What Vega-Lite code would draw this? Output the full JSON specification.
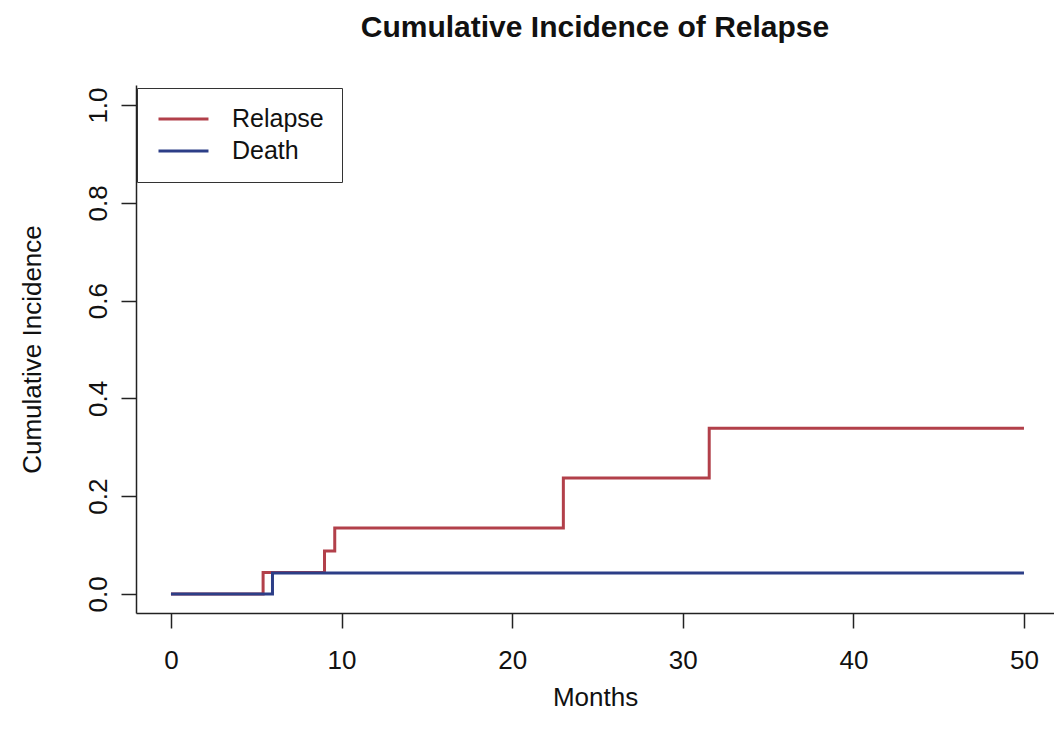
{
  "$schema": "https://vega.github.io/schema/vega-lite/v6.json",
  "autosize": {"type": "none"},
  "width": 918,
  "height": 528,
  "padding": {"left": 136, "top": 85, "right": 0, "bottom": 124},
  "background": "white",
  "config": {
    "view": {"stroke": null},
    "font": "Liberation Sans"
  },
  "title": {
    "text": "Cumulative Incidence of Relapse",
    "fontSize": 30,
    "fontWeight": "bold",
    "font": "Liberation Sans",
    "color": "#111111",
    "anchor": "middle",
    "frame": "group",
    "offset": 42
  },
  "data": {
    "values": [
      {"month": 0, "ci": 0, "event": "Relapse"},
      {"month": 5.4, "ci": 0.044, "event": "Relapse"},
      {"month": 9.0, "ci": 0.088, "event": "Relapse"},
      {"month": 9.6, "ci": 0.135, "event": "Relapse"},
      {"month": 23.0, "ci": 0.237, "event": "Relapse"},
      {"month": 31.55, "ci": 0.339, "event": "Relapse"},
      {"month": 50, "ci": 0.339, "event": "Relapse"},
      {"month": 0, "ci": 0, "event": "Death"},
      {"month": 5.95, "ci": 0.043, "event": "Death"},
      {"month": 50, "ci": 0.043, "event": "Death"}
    ]
  },
  "mark": {"type": "line", "interpolate": "step-after", "strokeWidth": 3},
  "encoding": {
    "x": {
      "field": "month",
      "type": "quantitative",
      "scale": {"domain": [-2.05, 51.76], "nice": false, "zero": false},
      "axis": {
        "title": "Months",
        "values": [0, 10, 20, 30, 40, 50],
        "grid": false,
        "domainColor": "#222222",
        "domainWidth": 1.5,
        "tickColor": "#222222",
        "tickWidth": 1.5,
        "tickSize": 15,
        "labelFontSize": 26,
        "labelColor": "#111111",
        "labelBaseline": "middle",
        "labelPadding": 32,
        "labelFlush": false,
        "titleFontSize": 26,
        "titleFontWeight": "normal",
        "titleColor": "#111111",
        "titleBaseline": "middle",
        "titleY": 84
      }
    },
    "y": {
      "field": "ci",
      "type": "quantitative",
      "scale": {"domain": [-0.039, 1.041], "nice": false, "zero": false},
      "axis": {
        "title": "Cumulative Incidence",
        "values": [0, 0.2, 0.4, 0.6, 0.8, 1.0],
        "format": ".1f",
        "grid": false,
        "domainColor": "#222222",
        "domainWidth": 1.5,
        "tickColor": "#222222",
        "tickWidth": 1.5,
        "tickSize": 15,
        "labelFontSize": 26,
        "labelColor": "#111111",
        "labelAngle": -90,
        "labelAlign": "center",
        "labelBaseline": "middle",
        "labelPadding": 23,
        "labelFlush": false,
        "titleFontSize": 26,
        "titleFontWeight": "normal",
        "titleColor": "#111111",
        "titleAngle": -90,
        "titleAlign": "center",
        "titleBaseline": "middle",
        "titleX": -104
      }
    },
    "color": {
      "field": "event",
      "type": "nominal",
      "scale": {"domain": ["Relapse", "Death"], "range": ["#B2404A", "#2C3E87"]},
      "legend": {
        "title": null,
        "orient": "none",
        "legendX": 1,
        "legendY": 3,
        "padding": 18,
        "fillColor": "white",
        "strokeColor": "#333333",
        "symbolType": "M-0.826,0H3.52",
        "symbolSize": 529,
        "symbolStrokeWidth": 3,
        "labelFontSize": 25,
        "labelColor": "#111111",
        "labelOffset": 51,
        "rowPadding": 6
      }
    }
  }
}
